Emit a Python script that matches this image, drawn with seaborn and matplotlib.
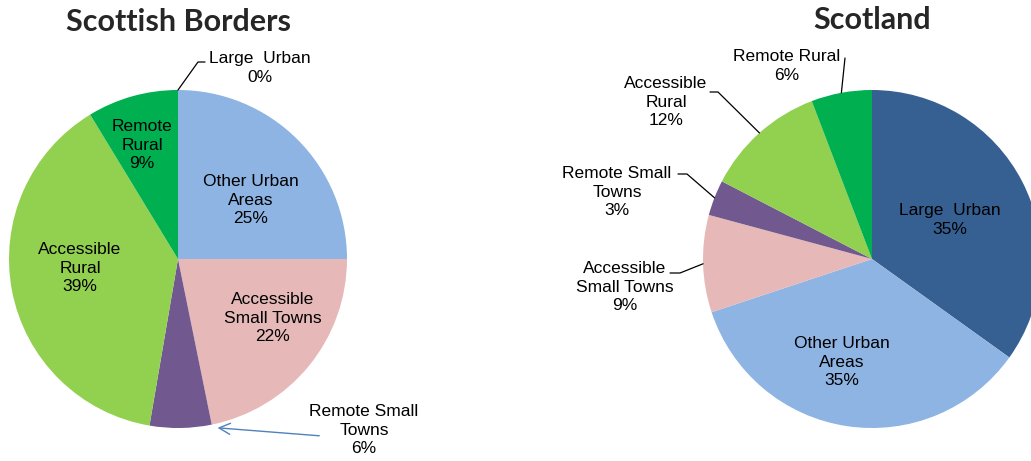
import numpy as np
import seaborn as sns
import matplotlib.pyplot as plt

# Data (percent of population by urban/rural class)
categories = ["Large Urban", "Other Urban Areas", "Accessible Small Towns",
              "Remote Small Towns", "Accessible Rural", "Remote Rural"]
borders_values = [0.0, 25.0, 21.8, 5.9, 38.6, 8.7]
scotland_values = [34.9, 35.0, 9.3, 3.4, 11.6, 5.8]

colors = sns.color_palette(["#376092", "#8EB4E3", "#E6B9B8",
                            "#71588F", "#92D050", "#00B050"])

sns.set_theme(style="white")
plt.rcParams['font.family'] = ['Liberation Sans', 'DejaVu Sans']

W, H = 1031, 461
fig = plt.figure(figsize=(W / 100, H / 100), dpi=100)
ax = fig.add_axes([0, 0, 1, 1])

# pie geometry in pixel units (y goes down)
left_c, right_c, R = (178, 259), (872, 259), 169


def edge_point(center, values, i, where=0.5):
    # point on the rim of wedge i, clockwise from 12 o'clock
    frac = (np.cumsum([0] + list(values))[i] + where * values[i]) / sum(values)
    a = 2 * np.pi * frac
    return center[0] + R * np.sin(a), center[1] - R * np.cos(a)


for vals, c in [(borders_values, left_c), (scotland_values, right_c)]:
    ax.pie(vals, colors=colors, center=c, radius=R, startangle=-90,
           counterclock=True, frame=True, wedgeprops=dict(linewidth=0))

ax.set_xlim(0, W)
ax.set_ylim(H, 0)
ax.set_aspect('auto')
ax.axis('off')

kw = dict(ha='center', va='center', fontsize=12.5, linespacing=1.3, color='black')


def pct(v):
    return f"{v:.0f}%"


# titles
title_kw = dict(ha='center', va='center', fontsize=22, fontweight='bold',
                family=['Lato', 'DejaVu Sans'])
ax.text(178, 22, "Scottish Borders", **title_kw)
ax.text(872, 20, "Scotland", **title_kw)

# Scottish Borders labels
b = borders_values
ax.text(260, 68, f"Large  Urban\n{pct(b[0])}", **kw)
x0, y0 = edge_point(left_c, b, 0)
ax.plot([x0, 198, 205], [y0, 62, 62], color='black', lw=0.9)
ax.text(251, 200, f"Other Urban\nAreas\n{pct(b[1])}", **kw)
ax.text(273, 318, f"Accessible\nSmall Towns\n{pct(b[2])}", **kw)
ax.text(364, 430, f"Remote Small\nTowns\n{pct(b[3])}", **kw)
x0, y0 = edge_point(left_c, b, 3, where=0.0)
ax.annotate("", xy=(x0 + 3, y0 + 3), xytext=(322, 436),
            arrowprops=dict(arrowstyle='->', color='#4F81BD', lw=1.0,
                            mutation_scale=20))
ax.text(80, 268, f"Accessible\nRural\n{pct(b[4])}", **kw)
ax.text(142, 145, f"Remote\nRural\n{pct(b[5])}", **kw)

# Scotland labels
s = scotland_values
ax.text(950, 220, f"Large  Urban\n{pct(s[0])}", **kw)
ax.text(842, 362, f"Other Urban\nAreas\n{pct(s[1])}", **kw)

ax.text(625, 287, f"Accessible\nSmall Towns\n{pct(s[2])}", **kw)
x0, y0 = edge_point(right_c, s, 2)
ax.plot([670, 680, x0], [273, 273, y0], color='black', lw=0.9)

ax.text(617, 192, f"Remote Small\nTowns\n{pct(s[3])}", **kw)
x0, y0 = edge_point(right_c, s, 3)
ax.plot([678, 687, x0], [174, 174, y0], color='black', lw=0.9)

ax.text(666, 102, f"Accessible\nRural\n{pct(s[4])}", **kw)
x0, y0 = edge_point(right_c, s, 4)
ax.plot([710, 718, x0], [92, 92, y0], color='black', lw=0.9)

ax.text(787, 66, f"Remote Rural\n{pct(s[5])}", **kw)
x0, y0 = edge_point(right_c, s, 5)
ax.plot([845, x0], [58, y0], color='black', lw=0.9)

fig.savefig("out.png", dpi=100)
